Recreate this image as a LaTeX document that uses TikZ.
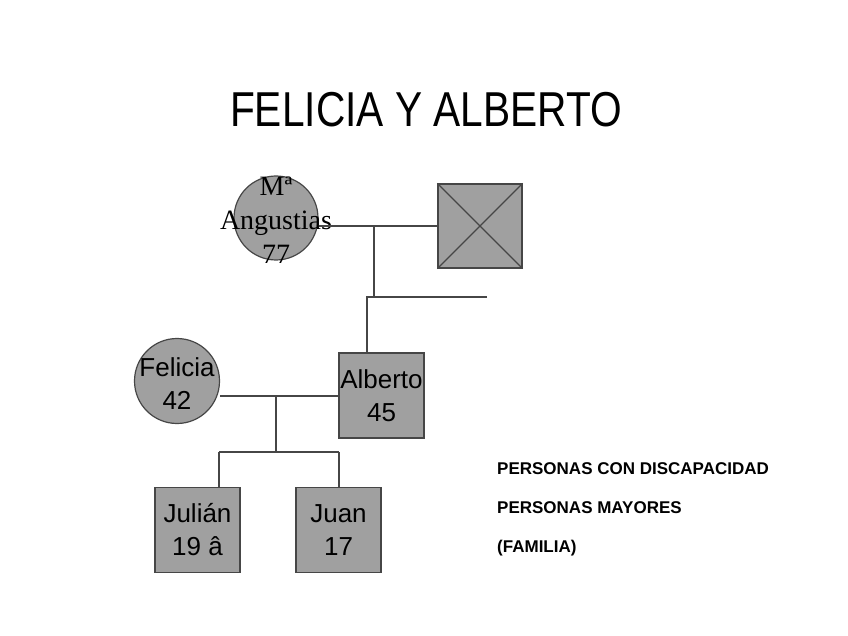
\documentclass[tikz,border=0pt]{standalone}
\usepackage{fontspec}
\setmainfont{Liberation Serif}
\setsansfont{Liberation Sans}
\newfontfamily\titlefont[FakeStretch=0.83]{Liberation Sans}
\usepackage{xcolor}
\usepackage{tikz}
\usetikzlibrary{positioning}

\definecolor{relleno}{RGB}{160,160,160}
\definecolor{trazo}{RGB}{70,70,70}

\begin{document}
\begin{tikzpicture}[
    x=1pt, y=-1pt,
    hombre/.style={draw=trazo, line width=1.2pt, fill=relleno, rectangle, minimum size=85pt, inner sep=1pt, align=center, font=\sffamily\fontsize{26}{33}\selectfont},
    mujer/.style={draw=trazo, line width=1.2pt, fill=relleno, circle, minimum size=85pt, inner sep=0pt},
    nombre/.style={align=center, inner sep=0pt, font=\sffamily\fontsize{26}{33}\selectfont},
    linea/.style={draw=trazo, line width=1.3pt},
    leyenda/.style={anchor=west, inner sep=0pt, font=\sffamily\bfseries\fontsize{17}{20}\selectfont}
]
    \useasboundingbox (0,0) rectangle (848,636);

    \node[font=\titlefont\fontsize{49}{55}\selectfont] (titulo) at (426,110) {FELICIA Y ALBERTO};

    \node[mujer, minimum size=84pt] (ang) at (276,218) {};
    \node[nombre, font=\rmfamily\fontsize{28}{34}\selectfont] (ang-t) at (276,220) {Mª\\Angustias\\77};
    \node[hombre, minimum size=84pt] (padre) at (480,226) {};
    \draw[linea] (padre.north west) -- (padre.south east) (padre.north east) -- (padre.south west);

    \node[mujer] (felicia) at (177,381) {};
    \node[nombre] (felicia-t) at (177,384) {Felicia\\42};
    \node[hombre] (alberto) at (381.5,395.5) {Alberto\\45};

    \node[hombre] (julian) at (197.5,530) {Julián\\19 â};
    \node[hombre] (juan) at (338.5,530) {Juan\\17};

    \node[leyenda] (ley1) at (497,469) {PERSONAS CON DISCAPACIDAD};
    \node[leyenda] (ley2) at (497,508) {PERSONAS MAYORES};
    \node[leyenda] (ley3) at (497,548) {(FAMILIA)};

    \coordinate (m1) at (374,226);
    \coordinate (h1) at (367,297);
    \coordinate (hermano) at (487,297);
    \draw[linea] (ang.east |- padre.west) -- (padre.west);
    \draw[linea] (m1) -- (m1 |- hermano);
    \draw[linea] (hermano) -- (h1) -- (h1 |- alberto.north);

    \coordinate (m2) at (276,396);
    \coordinate (h2) at (219,452);
    \coordinate (h3) at (339,452);
    \draw[linea] (felicia.east |- m2) -- (alberto.west |- m2);
    \draw[linea] (m2) -- (m2 |- h2);
    \draw[linea] (h2) -- (h3);
    \draw[linea] (h2) -- (h2 |- julian.north);
    \draw[linea] (h3) -- (h3 |- juan.north);
\end{tikzpicture}
\end{document}
